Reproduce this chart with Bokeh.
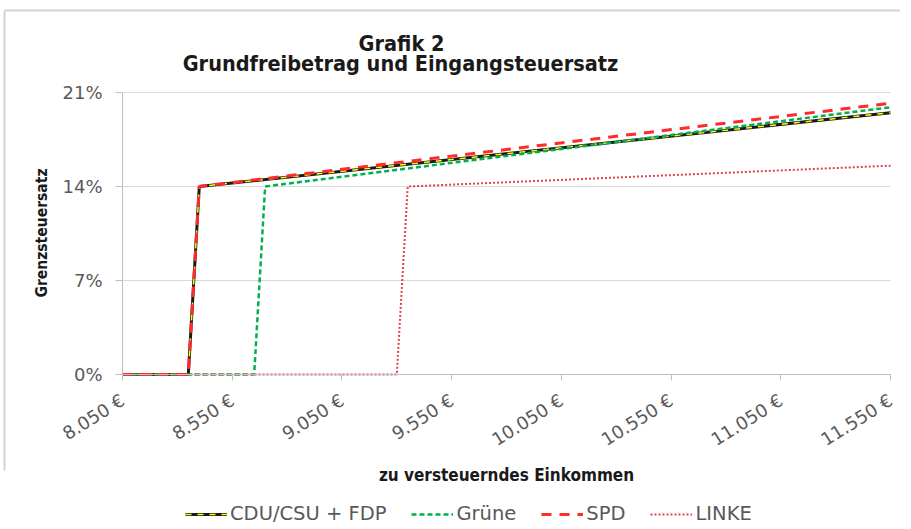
from bokeh.plotting import figure
from bokeh.models import (Range1d, FixedTicker, Legend, LegendItem,
                          PrintfTickFormatter, Label)
from bokeh.embed import file_html
from bokeh.resources import INLINE
import math

# ---- data ----
cdu_income = [8050, 8350, 8400, 11550]
cdu_rate = [0, 0, 14, 19.5]
gruene_income = [8050, 8650, 8700, 11550]
gruene_rate = [0, 0, 14, 19.9]
spd_income = [8050, 8350, 8400, 11550]
spd_rate = [0, 0, 14, 20.2]
linke_income = [8050, 9300, 9350, 11550]
linke_rate = [0, 0, 14, 15.55]

x_ticks = [8050, 8550, 9050, 9550, 10050, 10550, 11050, 11550]
x_tick_labels = ["8.050 €", "8.550 €", "9.050 €", "9.550 €", "10.050 €",
                 "10.550 €", "11.050 €", "11.550 €"]
y_ticks = [0, 7, 14, 21]

series_names = ["CDU/CSU + FDP", "Grüne", "SPD", "LINKE"]
title_text = "Grafik 2"
subtitle_text = "Grundfreibetrag und Eingangsteuersatz"
x_title = "zu versteuerndes Einkommen"
y_title = "Grenzsteuersatz"

# ---- layout (pixels) ----
W, H = 900, 525
AX_L, AX_R = 122, 890      # pixel columns of the first / last x tick
Y0_PX, Y21_PX = 374, 92    # pixel rows of 0 % and 21 %
X_MIN, X_MAX = x_ticks[0], x_ticks[-1]

px_per_eur = (AX_R - AX_L) / (X_MAX - X_MIN)
px_per_pct = (Y0_PX - Y21_PX) / y_ticks[-1]


def px_to_x(px):
    return X_MIN + (px - AX_L) / px_per_eur


def py_to_y(py):
    return (Y0_PX - py) / px_per_pct


SANS = "DejaVu Sans"
COND = "DejaVu Sans Condensed, DejaVu Sans"
GRAY = "#595959"
DARK = "#1a1a1a"
AXIS_GRAY = "#bfbfbf"
GRID_GRAY = "#d9d9d9"
FRAME_GRAY = "#d4d4d4"

p = figure(width=W, height=H, output_backend="svg", toolbar_location=None,
           x_range=Range1d(px_to_x(0), px_to_x(W)),
           y_range=Range1d(py_to_y(H), py_to_y(0)),
           min_border_left=0, min_border_right=0, min_border_top=0,
           min_border_bottom=0, title=None)
p.background_fill_color = "white"
p.border_fill_color = "white"
p.outline_line_color = None

# ---- chart-area border (top and left edge, as in the screenshot) ----
p.segment(x0=[px_to_x(4), px_to_x(4)], y0=[py_to_y(10), py_to_y(10)],
          x1=[px_to_x(W), px_to_x(4)], y1=[py_to_y(10), py_to_y(470)],
          line_color=FRAME_GRAY, line_width=2)

# ---- horizontal gridlines, only across the plot area ----
p.segment(x0=[X_MIN] * len(y_ticks), x1=[X_MAX] * len(y_ticks),
          y0=y_ticks, y1=y_ticks, line_color=GRID_GRAY, line_width=1)

# ---- titles ----
p.add_layout(Label(x=px_to_x(401), y=py_to_y(43), text=title_text,
                   text_align="center", text_baseline="alphabetic",
                   text_font=COND, text_font_style="bold",
                   text_font_size="21.5px", text_color=DARK))
p.add_layout(Label(x=px_to_x(400), y=py_to_y(63), text=subtitle_text,
                   text_align="center", text_baseline="alphabetic",
                   text_font=COND, text_font_style="bold",
                   text_font_size="21.5px", text_color=DARK))
p.add_layout(Label(x=px_to_x(41), y=py_to_y(232.5), text=y_title,
                   angle=math.pi / 2, text_align="center",
                   text_baseline="middle", text_font=COND,
                   text_font_style="bold", text_font_size="15.5px",
                   text_color=DARK))

# ---- x axis (crossing at 0 %) ----
p.xaxis.fixed_location = 0
p.xaxis.bounds = (X_MIN, X_MAX)
p.xaxis.ticker = FixedTicker(ticks=x_ticks)
p.xaxis.major_label_overrides = dict(zip(x_ticks, x_tick_labels))
p.xaxis.major_label_orientation = 0.56
p.xaxis.major_label_text_font = SANS
p.xaxis.major_label_text_font_size = "18px"
p.xaxis.major_label_text_color = GRAY
p.xaxis.major_label_standoff = 18
p.xaxis.axis_line_color = AXIS_GRAY
p.xaxis.major_tick_line_color = AXIS_GRAY
p.xaxis.major_tick_out = 6
p.xaxis.major_tick_in = 0
p.xaxis.minor_tick_line_color = None
p.xaxis.axis_label = x_title
p.xaxis.axis_label_text_font = COND
p.xaxis.axis_label_text_font_style = "bold"
p.xaxis.axis_label_text_font_size = "17px"
p.xaxis.axis_label_text_color = DARK
p.xaxis.axis_label_standoff = 3

# ---- y axis (crossing at the first income) ----
p.yaxis.fixed_location = X_MIN
p.yaxis.bounds = (y_ticks[0], y_ticks[-1])
p.yaxis.ticker = FixedTicker(ticks=y_ticks)
p.yaxis.formatter = PrintfTickFormatter(format="%d%%")
p.yaxis.major_label_text_font = SANS
p.yaxis.major_label_text_font_size = "18px"
p.yaxis.major_label_text_color = GRAY
p.yaxis.major_label_standoff = 13
p.yaxis.axis_line_color = AXIS_GRAY
p.yaxis.major_tick_line_color = AXIS_GRAY
p.yaxis.major_tick_out = 7
p.yaxis.major_tick_in = 0
p.yaxis.minor_tick_line_color = None

p.xgrid.grid_line_color = None
p.ygrid.grid_line_color = None

# ---- lines ----
r_cdu = p.line(cdu_income, cdu_rate, line_color=DARK, line_width=3)
r_fdp = p.line(cdu_income, cdu_rate, line_color="#ffff00", line_width=1.5,
               line_dash="6 6")
r_gr = p.line(gruene_income, gruene_rate, line_color="#00b050", line_width=2.5,
              line_dash="5 3")
r_spd = p.line(spd_income, spd_rate, line_color="#ff2a2a", line_width=3,
               line_dash="10 8")
r_li = p.line(linke_income, linke_rate, line_color="#e0404f", line_width=2,
              line_dash="2 2")

legend = Legend(items=[
    LegendItem(label=series_names[0], renderers=[r_cdu, r_fdp]),
    LegendItem(label=series_names[1], renderers=[r_gr]),
    LegendItem(label=series_names[2], renderers=[r_spd]),
    LegendItem(label=series_names[3], renderers=[r_li]),
], orientation="horizontal", location=(185, 0),
    glyph_width=42, glyph_height=20, label_height=20, label_standoff=3,
    spacing=25, padding=0, margin=0,
    label_text_font=SANS, label_text_font_size="19.5px",
    label_text_color=GRAY, background_fill_alpha=0, border_line_color=None)
p.add_layout(legend, "center")

open("out.html", "w").write(file_html(p, INLINE))
